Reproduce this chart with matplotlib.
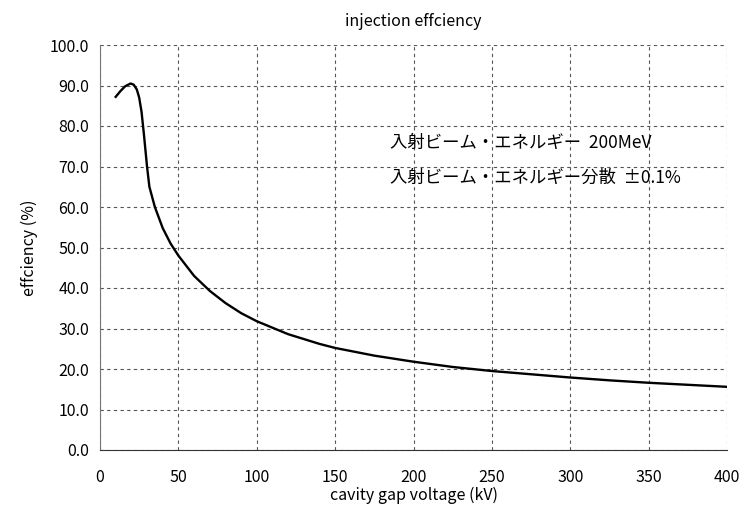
import matplotlib
matplotlib.use("Agg")
import matplotlib.pyplot as plt
import numpy as np

plt.rcParams['font.family'] = ['Noto Sans CJK JP', 'DejaVu Sans']

# values
voltage = [10, 13, 16, 19.5, 21.5, 23.5, 25, 26.5, 28, 30, 31.5, 35, 40, 45, 50, 60, 70, 80, 90, 100,
           120, 140, 150, 175, 200, 225, 250, 275, 300, 325, 350, 375, 400]
efficiency = [87.2, 88.6, 89.8, 90.5, 90.2, 89.0, 87.0, 83.5, 78.0, 70.0, 65.0, 60.0, 54.8, 51.0,
              48.0, 43.0, 39.3, 36.3, 33.8, 31.8, 28.6, 26.2, 25.2, 23.3, 21.8, 20.5, 19.5, 18.7,
              17.9, 17.2, 16.6, 16.1, 15.6]
xticks = [0, 50, 100, 150, 200, 250, 300, 350, 400]
yticks = [0, 10, 20, 30, 40, 50, 60, 70, 80, 90, 100]

fig = plt.figure(figsize=(7.44, 5.07), dpi=100)
ax = fig.add_axes([100 / 744, 57 / 507, 627 / 744, 405 / 507])

ax.plot(voltage, efficiency, color='black', lw=1.7)

ax.set_xlim(0, 400)
ax.set_ylim(0, 100)
ax.set_xticks(xticks)
ax.set_yticks(yticks)
ax.set_yticklabels([f"{v:.1f}" for v in yticks])
ax.grid(True, ls=(0, (3, 3)), color='#555555', lw=0.8)
ax.tick_params(length=0, labelsize=11.5)
ax.tick_params(axis='x', pad=14)
ax.tick_params(axis='y', pad=8)
for s in ['top', 'right']:
    ax.spines[s].set_visible(False)
ax.spines['left'].set_color('#777777')
ax.spines['bottom'].set_color('#333333')

ax.set_xlabel('cavity gap voltage (kV)', fontsize=11.5, labelpad=0)
ax.set_ylabel('effciency (%)', fontsize=11.5, labelpad=8)
ax.set_title('injection effciency', fontsize=11.5, pad=14)

ax.text(185, 75.8, '入射ビーム・エネルギー  200MeV', fontsize=12.5, va='center')
ax.text(185, 67.2, '入射ビーム・エネルギー分散  ±0.1%', fontsize=12.5, va='center')

fig.savefig('out.png', dpi=100)
